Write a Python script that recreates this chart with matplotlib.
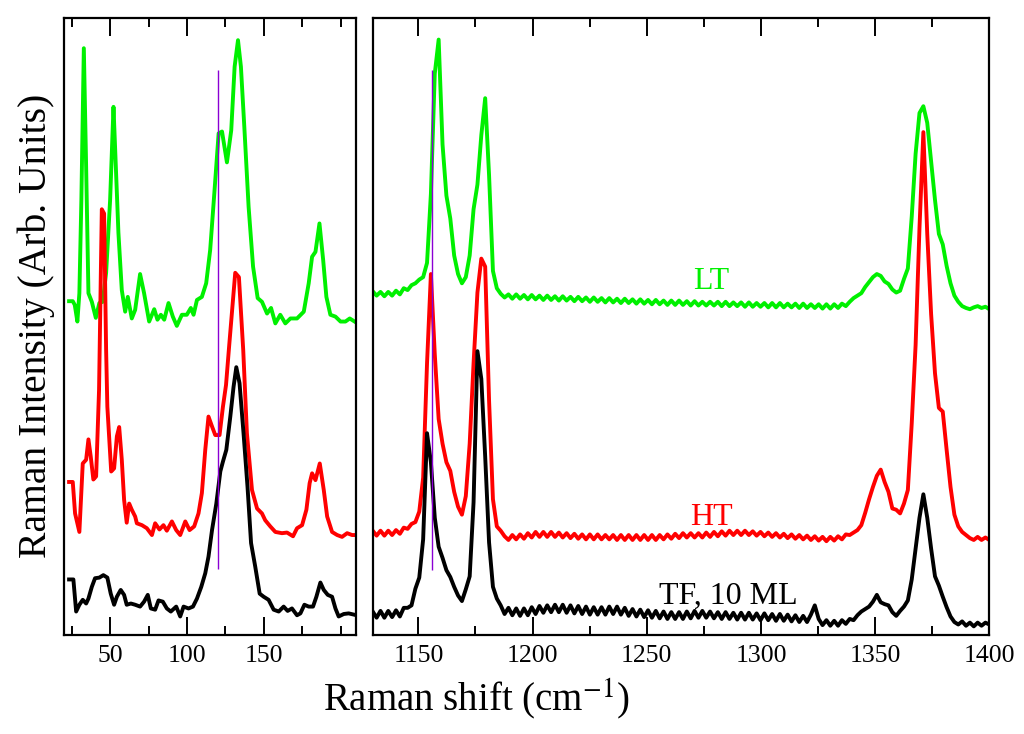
import matplotlib
matplotlib.use("Agg")
import matplotlib.pyplot as plt
import numpy as np

plt.rcParams['font.family'] = ['Liberation Serif', 'DejaVu Serif']
plt.rcParams['mathtext.fontset'] = 'stix'

# ---- low-frequency panel (cm-1) ----
lt_low_x = [23.3, 25.7, 27.0, 28.7, 30.0, 31.3, 32.9, 34.4, 35.9, 38.1, 40.7, 43.0, 45.2, 47.4,
            50.0, 52.2, 53.3, 55.4, 57.6, 59.8, 61.5, 64.1, 66.3, 69.5, 72.1, 75.4, 78.7, 80.8,
            83.0, 85.2, 88.0, 90.8, 93.4, 96.7, 99.9, 102.5, 104.3, 106.5, 109.7, 112.5, 115.1,
            117.8, 120.6, 122.8, 126.0, 128.8, 131.0, 133.2, 135.1, 137.3, 140.1, 143.0, 146.0,
            148.8, 152.1, 154.7, 157.5, 160.7, 164.0, 167.3, 171.6, 176.0, 179.2, 181.4, 183.6,
            186.2, 188.6, 190.7, 193.3, 196.6, 199.9, 203.1, 205.9, 210.3]
lt_low_y = [54.1, 54.1, 53.5, 50.8, 55.4, 70.5, 95.1, 75.9, 55.4, 54.0, 51.4, 53.8, 54.0, 58.7,
            70.5, 85.6, 78.6, 65.2, 55.9, 52.4, 54.8, 51.3, 52.7, 58.5, 55.4, 50.8, 52.8, 51.1,
            51.9, 51.1, 53.8, 51.6, 50.1, 51.9, 51.9, 53.0, 51.9, 54.3, 54.8, 57.0, 62.4,
            71.6, 81.3, 81.6, 76.6, 81.8, 92.1, 96.4, 92.1, 82.4, 69.4, 59.7, 54.6,
            54.0, 52.1, 53.0, 50.5, 51.9, 50.5, 51.3, 51.3, 52.4, 57.0, 61.3, 62.1,
            66.7, 60.8, 54.8, 51.9, 51.6, 50.8, 50.8, 51.3, 50.6]

ht_low_x = [23.3, 25.7, 27.2, 30.0, 32.2, 34.4, 35.9, 37.4, 39.1, 40.9, 42.8, 44.6, 46.1, 47.4,
            48.2, 50.7, 52.6, 54.4, 55.9, 57.6, 59.1, 60.8, 62.4, 64.1, 66.3, 67.4, 70.7, 73.9,
            77.2, 79.3, 82.1, 84.7, 86.9, 90.2, 93.0, 95.6, 98.9, 101.7, 104.7, 107.5, 109.7,
            111.9, 114.0, 116.3, 118.4, 121.2, 123.4, 125.4, 127.5, 131.4, 133.8, 136.6, 139.0,
            142.3, 145.6, 148.8, 150.9, 154.2, 157.5, 161.8, 165.1, 169.0, 171.6, 174.9, 177.7,
            179.8, 181.4, 183.6, 186.4, 189.0, 191.2, 194.4, 197.7, 200.9, 204.2, 207.4, 210.2]
ht_low_y = [24.8, 24.8, 19.7, 16.7, 27.8, 28.4, 31.7, 28.9, 25.2, 25.7, 39.7, 69.0, 68.3, 46.2,
            37.0, 26.5, 27.0, 32.2, 33.7, 28.4, 21.9, 18.2, 21.3, 20.3, 19.2, 18.1, 17.8, 17.3,
            16.2, 18.1, 17.1, 17.8, 16.9, 18.4, 17.0, 16.2, 18.4, 17.0, 17.6, 19.7, 23.0,
            30.0, 35.4, 33.8, 32.4, 32.4, 37.0, 40.5, 47.0, 58.7, 58.0, 46.2, 32.7,
            23.5, 20.5, 19.7, 18.6, 17.6, 16.7, 16.5, 16.6, 16.0, 17.3, 17.8, 20.3,
            24.6, 26.2, 25.1, 27.8, 23.5, 19.2, 16.7, 16.2, 15.9, 16.5, 16.2, 16.2]

tf_low_x = [23.3, 26.1, 27.9, 30.0, 32.2, 34.4, 35.9, 38.1, 40.2, 43.0, 45.6, 48.2, 50.4, 52.6,
            54.4, 56.9, 59.1, 60.8, 63.5, 66.3, 69.5, 72.1, 74.5, 76.5, 79.3, 81.5, 84.3, 86.9,
            89.5, 93.0, 95.6, 97.8, 101.0, 103.9, 106.5, 109.3, 111.9, 114.0, 116.3, 119.1,
            121.7, 123.4, 125.6, 128.2, 130.3, 132.1, 134.2, 136.8, 139.4, 141.7, 144.4, 147.3,
            149.9, 153.1, 156.4, 159.7, 162.9, 165.5, 168.3, 171.6, 173.8, 176.4, 179.2, 182.0,
            184.2, 186.8, 189.0, 191.6, 194.4, 196.6, 198.7, 202.0, 205.2, 210.3]
tf_low_y = [9.0, 9.0, 3.8, 4.9, 5.7, 5.1, 5.9, 7.8, 9.2, 9.3, 9.7, 9.3, 6.7, 4.9,
            6.2, 7.3, 6.5, 4.9, 5.1, 4.9, 4.6, 5.4, 6.5, 4.3, 4.1, 5.6, 5.4, 4.3,
            3.8, 4.6, 3.0, 4.6, 4.3, 4.6, 5.9, 7.8, 10.0, 12.7, 17.0, 21.3,
            26.5, 28.1, 30.0, 35.4, 40.2, 43.4, 40.8, 32.7, 24.0, 14.9, 11.1, 6.7,
            6.2, 5.7, 4.1, 3.8, 4.6, 3.9, 4.3, 3.2, 3.5, 4.9, 4.6, 4.6,
            6.2, 8.5, 7.3, 6.5, 6.2, 4.3, 3.0, 3.4, 3.5, 3.2]

# ---- high-frequency panel, sampled on a common grid 1130..1400 ----
high_x = np.linspace(1130, 1400, 160)
lt_high = [55.7, 55.0, 55.6, 54.9, 55.6, 55.0, 55.8, 55.2, 56.2, 55.9,
           56.7, 57.0, 57.6, 58.0, 60.3, 71.5, 91.0, 96.5, 79.5, 71.2,
           67.5, 61.5, 58.5, 57.0, 58.0, 61.5, 69.0, 73.0, 81.0, 87.0,
           74.5, 59.0, 56.2, 55.3, 54.7, 55.2, 54.5, 55.2, 54.5, 55.1,
           54.4, 55.1, 54.4, 55.0, 54.3, 55.0, 54.3, 54.9, 54.2, 54.9,
           54.2, 54.8, 54.1, 54.8, 54.1, 54.7, 54.0, 54.7, 54.0, 54.6,
           53.9, 54.6, 53.9, 54.5, 53.8, 54.5, 53.8, 54.4, 53.7, 54.4,
           53.7, 54.3, 53.6, 54.3, 53.6, 54.2, 53.5, 54.2, 53.5, 54.2,
           53.5, 54.1, 53.4, 54.1, 53.4, 54.0, 53.4, 54.0, 53.4, 54.0,
           53.3, 54.0, 53.3, 53.9, 53.3, 53.9, 53.2, 53.9, 53.2, 53.8,
           53.2, 53.8, 53.1, 53.8, 53.1, 53.8, 53.1, 53.7, 53.1, 53.7,
           53.0, 53.7, 53.0, 53.6, 53.0, 53.6, 52.9, 53.6, 52.9, 53.6,
           53.0, 53.7, 53.3, 54.0, 54.6, 55.0, 55.4, 56.4, 57.2, 58.0,
           58.5, 58.2, 57.3, 56.9, 56.0, 55.5, 55.8, 57.7, 59.4, 67.8,
           78.0, 84.6, 85.7, 83.0, 76.8, 70.5, 65.0, 63.3, 59.8, 57.0,
           55.0, 54.0, 53.3, 53.0, 52.8, 53.1, 53.3, 53.0, 53.2, 52.8]
ht_high = [16.9, 16.1, 16.9, 16.1, 16.9, 16.2, 17.0, 16.4, 17.4, 17.2,
           18.0, 18.3, 20.0, 25.5, 44.0, 58.5, 45.5, 35.0, 31.0, 28.0,
           26.6, 23.2, 20.8, 19.5, 22.5, 31.0, 44.0, 55.5, 61.0, 59.7,
           38.0, 22.0, 17.6, 16.9, 16.0, 15.4, 16.2, 15.5, 16.3, 15.6,
           16.5, 15.8, 16.7, 15.9, 16.7, 15.9, 16.7, 15.9, 16.6, 15.8,
           16.5, 15.7, 16.4, 15.6, 16.3, 15.5, 16.3, 15.5, 16.3, 15.5,
           16.2, 15.5, 16.2, 15.4, 16.2, 15.4, 16.2, 15.4, 16.2, 15.4,
           16.2, 15.4, 16.2, 15.4, 16.2, 15.5, 16.3, 15.6, 16.4, 15.7,
           16.5, 15.8, 16.5, 15.8, 16.5, 15.8, 16.6, 15.9, 16.7, 16.0,
           16.8, 16.1, 16.9, 16.2, 16.9, 16.2, 16.9, 16.2, 16.8, 16.1,
           16.7, 16.0, 16.6, 15.9, 16.5, 15.8, 16.4, 15.7, 16.3, 15.6,
           16.2, 15.5, 16.1, 15.4, 16.0, 15.3, 15.9, 15.2, 15.9, 15.3,
           16.0, 15.5, 16.3, 16.2, 16.6, 17.0, 17.8, 19.8, 22.0, 24.0,
           25.8, 26.8, 24.8, 23.2, 20.5, 20.3, 19.7, 21.3, 23.5, 34.3,
           47.0, 66.0, 81.5, 65.0, 52.0, 42.4, 36.8, 36.2, 30.0, 24.0,
           19.5, 17.6, 16.7, 16.2, 15.7, 15.4, 15.9, 15.4, 15.8, 15.4]
tf_high = [3.8, 2.8, 3.9, 2.8, 3.9, 2.9, 4.0, 3.0, 4.4, 4.4,
           4.8, 7.5, 9.3, 15.5, 32.7, 28.0, 19.0, 14.3, 12.5, 10.5,
           9.4, 7.8, 6.4, 5.5, 7.4, 9.5, 21.5, 46.0, 41.5, 28.9,
           15.0, 7.8, 5.9, 4.8, 3.4, 4.4, 3.2, 4.3, 3.1, 4.3,
           3.2, 4.5, 3.4, 4.7, 3.6, 4.8, 3.7, 4.9, 3.7, 4.9,
           3.6, 4.8, 3.5, 4.7, 3.4, 4.6, 3.3, 4.5, 3.3, 4.5,
           3.3, 4.6, 3.4, 4.6, 3.3, 4.4, 3.1, 4.2, 3.0, 4.1,
           2.9, 4.0, 2.8, 3.9, 2.7, 3.8, 2.6, 3.7, 2.6, 3.7,
           2.6, 3.8, 2.7, 3.9, 2.8, 3.9, 2.8, 3.8, 2.7, 3.7,
           2.6, 3.7, 2.6, 3.6, 2.5, 3.6, 2.5, 3.6, 2.5, 3.5,
           2.4, 3.5, 2.4, 3.4, 2.3, 3.4, 2.3, 3.3, 2.2, 3.2,
           2.1, 3.1, 2.1, 3.3, 4.8, 2.6, 1.6, 2.4, 1.5, 2.3,
           1.5, 2.4, 1.8, 2.6, 2.4, 3.2, 3.8, 4.2, 4.6, 5.4,
           6.5, 5.3, 5.0, 4.8, 3.7, 3.1, 3.9, 4.6, 5.6, 9.0,
           14.0, 19.0, 22.8, 19.0, 14.0, 9.5, 8.0, 6.2, 4.5, 3.0,
           2.1, 1.7, 2.2, 1.5, 2.0, 1.4, 2.0, 1.5, 2.0, 1.7]

# reference (purple) lines: position, bottom, top
ref_low = (120.0, 10.7, 91.5)
ref_high = (1155.8, 10.5, 91.5)

GREEN = '#00f000'
RED = '#ff0000'
PURPLE = '#8a00d4'
LW = 2.8

fig = plt.figure(figsize=(10.24, 7.34), dpi=100)
ax1 = fig.add_axes([0.0625, 0.1349, 0.2852, 0.8406])
ax2 = fig.add_axes([0.3640, 0.1349, 0.6021, 0.8406])

ax1.plot(lt_low_x, lt_low_y, color=GREEN, lw=LW)
ax1.plot(ht_low_x, ht_low_y, color=RED, lw=LW)
ax1.plot(tf_low_x, tf_low_y, color='black', lw=LW)
ax1.vlines(ref_low[0], ref_low[1], ref_low[2], color=PURPLE, lw=1.0)

ax2.plot(high_x, lt_high, color=GREEN, lw=LW)
ax2.plot(high_x, ht_high, color=RED, lw=LW)
ax2.plot(high_x, tf_high, color='black', lw=LW)
ax2.vlines(ref_high[0], ref_high[1], ref_high[2], color=PURPLE, lw=1.0)

ax2.text(1278, 56.0, 'LT', color=GREEN, fontsize=23, ha='center', va='baseline')
ax2.text(1278.5, 17.8, 'HT', color=RED, fontsize=23, ha='center', va='baseline')
ax2.text(1285.7, 5.1, 'TF, 10 ML', color='black', fontsize=23, ha='center', va='baseline')

ax1.set_xlim(20, 210)
ax2.set_xlim(1130, 1400)
ax1.set_xticks([50, 100, 150])
ax1.set_xticks([25, 75, 125, 175, 200], minor=True)
ax2.set_xticks([1150, 1200, 1250, 1300, 1350, 1400])
ax2.set_xticks([1175, 1225, 1275, 1325, 1375], minor=True)

for ax in (ax1, ax2):
    ax.set_ylim(0, 100)
    ax.set_yticks([])
    ax.tick_params(axis='x', which='both', direction='in', top=True, width=1.4,
                   labelsize=18.5, pad=7)
    ax.tick_params(axis='x', which='major', length=13)
    ax.tick_params(axis='x', which='minor', length=6.5)
    for s in ax.spines.values():
        s.set_linewidth(1.6)

fig.text(476 / 1024, 0.032, r'Raman shift (cm$^{-1}$)', fontsize=28,
         ha='center', va='baseline')
fig.text(36 / 1024, 1 - 326 / 734, 'Raman Intensity (Arb. Units)', fontsize=28.5,
         rotation=90, ha='center', va='center')

fig.savefig('out.png', dpi=100)
